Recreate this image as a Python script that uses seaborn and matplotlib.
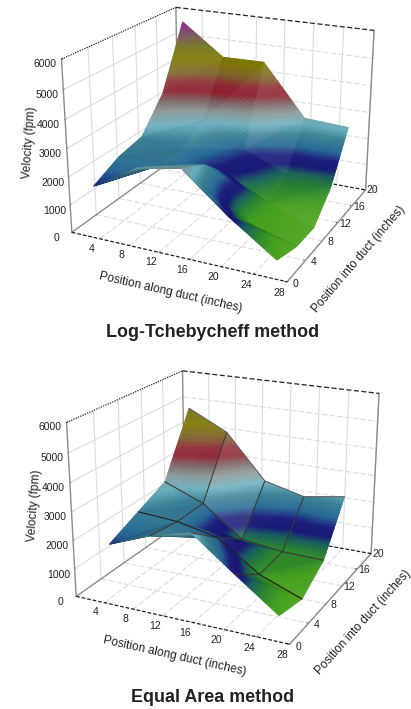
import numpy as np, matplotlib
matplotlib.use('Agg')
import matplotlib.pyplot as plt
from matplotlib.colors import LinearSegmentedColormap, Normalize
from matplotlib.transforms import Affine2D
import seaborn as sns

sns.set_theme(style='white')
FONT = ['Liberation Sans', 'DejaVu Sans']
plt.rcParams['font.family'] = FONT

# ---- data (fpm); rows run from back to front ----
lt_x = [2.1, 8.1, 14, 19.9, 25.9]
lt_y = [18.5, 14.2, 10, 5.8, 1.5]
lt_v1 = [5640, 4490, 4510, 2620, 2530]
lt_v2 = [3340, 2570, 1690, 1020, 890]
lt_v3 = [2200, 2040, 1400, 590, 20]
lt_v4 = [2010, 2010, 2300, 530, 40]
lt_v5 = [1560, 2500, 2790, 1470, 330]

ea_x = [2.8, 8.4, 14, 19.6, 25.2]
ea_y = [17.5, 12.5, 7.5, 2.5]
ea_v1 = [4880, 4160, 2520, 2160, 2400]
ea_v2 = [2630, 2050, 950, 760, 730]
ea_v3 = [2140, 2040, 1720, 680, 100]
ea_v4 = [1650, 2220, 2610, 1470, 360]

x_ticks = [4, 8, 12, 16, 20, 24, 28]
y_ticks = [0, 4, 8, 12, 16, 20]
z_ticks = [0, 1000, 2000, 3000, 4000, 5000, 6000]

band_levels = [0, 500, 850, 1100, 1300, 1550, 1800, 2150, 2450, 2800, 3100, 3400, 3650, 4000, 4400, 4800, 5200, 5640, 6000]
band_colors = ['#55aa28', '#46a01e', '#288232', '#195f5f', '#191978', '#1e1e7d', '#286996', '#3c8296',
               '#69afbe', '#879696', '#786464', '#8c1e2d', '#8c2832', '#7d6428', '#7d7800', '#6e6e14',
               '#6e465a', '#87147d', '#87147d']
cmap = LinearSegmentedColormap.from_list('bands', [(l / 6000, c) for l, c in zip(band_levels, band_colors)], N=512)
norm = Normalize(0, 6000)
W, H = 411, 709


def refine(xs, ys, Z, n=24):
    """Split each grid cell into two flat triangles and sample them finely for the colour gradient."""
    Z = np.array(Z, float)
    ny, nx = Z.shape
    u = np.linspace(0, nx - 1, (nx - 1) * n + 1)
    v = np.linspace(0, ny - 1, (ny - 1) * n + 1)
    X = np.interp(u, np.arange(nx), xs)
    Y = np.interp(v, np.arange(ny), ys)
    out = np.zeros((len(v), len(u)))
    for a, vv in enumerate(v):
        for b, uu in enumerate(u):
            i, j = min(int(vv), ny - 2), min(int(uu), nx - 2)
            f, g = vv - i, uu - j
            if f + g <= 1:
                out[a, b] = Z[i, j] + f * (Z[i + 1, j] - Z[i, j]) + g * (Z[i, j + 1] - Z[i, j])
            else:
                out[a, b] = Z[i + 1, j + 1] + (1 - f) * (Z[i, j + 1] - Z[i + 1, j + 1]) + (1 - g) * (Z[i + 1, j] - Z[i + 1, j + 1])
    XX, YY = np.meshgrid(X, Y)
    return XX, YY, out


def shift(artist, dx, dy):
    """Nudge a text the 3D axis re-places at every draw, by some pixels."""
    orig = artist.draw
    def draw(renderer):
        tr = artist.get_transform()
        artist.set_transform(tr + Affine2D().translate(dx, dy))
        orig(renderer)
        artist.set_transform(tr)
    artist.draw = draw


def panel(cam, xs, ys, Z, title, title_y, wire):
    elev, azim, fl, ax_, ay_, cx, cy, s = cam
    ax = fig.add_axes([(cx - s / 2) / W, 1 - (cy + s / 2) / H, s / W, s / H], projection='3d', computed_zorder=False)
    ax.view_init(elev=elev, azim=azim)
    ax.set_proj_type('persp', focal_length=fl)
    ax.set_box_aspect((ax_, ay_, 1))
    ax.set_xlim(0, 28); ax.set_ylim(0, 20); ax.set_zlim(0, 6000)
    ax.patch.set_alpha(0)
    for a in (ax.xaxis, ax.yaxis, ax.zaxis):
        a.pane.set_visible(False)
        a.line.set_color((0, 0, 0, 0))
        a._axinfo['grid']['linewidth'] = 0
        a._axinfo['tick']['inward_factor'] = 0
        a._axinfo['tick']['outward_factor'] = 0.12
        a._axinfo['tick']['linewidth'] = {True: .7, False: .7}
        a._axinfo['tick']['color'] = '#555555'
    ax.grid(False)
    ax.set_xticks(x_ticks); ax.set_yticks(y_ticks); ax.set_zticks(z_ticks)
    ax.tick_params(labelsize=7.5, labelcolor='#222222', pad=-2)
    ax.tick_params(axis='z', pad=0)
    ax.zaxis.set_ticks_position('lower')
    ax.zaxis.set_label_position('lower')
    ax.set_xlabel('Position along duct (inches)', fontsize=8.6, color='#222222', labelpad=-3)
    ax.set_ylabel('Position into duct (inches)', fontsize=8.6, color='#222222', labelpad=-3)
    ax.zaxis.set_rotate_label(False)
    ax.set_zlabel('Velocity (fpm)', fontsize=8.6, color='#222222', labelpad=-2, rotation=86)
    for t in ax.xaxis.get_major_ticks():
        shift(t.label1, -3, 7)
    for t in ax.yaxis.get_major_ticks():
        shift(t.label1, -2, 13)
    for t in ax.zaxis.get_major_ticks():
        shift(t.label1, 4, 2)
    shift(ax.xaxis.label, 12, 0)
    shift(ax.zaxis.label, 11, 12)

    # walls and floor
    gc = '#dcdcdc'
    for t in x_ticks:
        ax.plot([t, t], [0, 20], [0, 0], color=gc, lw=.8, ls=(0, (5, 2)), zorder=1)
        ax.plot([t, t], [20, 20], [0, 6000], color=gc, lw=.8, zorder=1)
    for t in y_ticks[1:-1]:
        ax.plot([0, 28], [t, t], [0, 0], color=gc, lw=.8, ls=(0, (5, 2)), zorder=1)
        ax.plot([0, 0], [t, t], [0, 6000], color=gc, lw=.8, zorder=1)
    for t in z_ticks[1:-1]:
        ax.plot([0, 0], [0, 20], [t, t], color=gc, lw=.8, zorder=1)
        ax.plot([0, 28], [20, 20], [t, t], color=gc, lw=.8, ls=(0, (5, 2)), zorder=1)
    edge = '#8f8a84'
    for a, b in [((0, 0, 0), (0, 0, 6000)), ((0, 0, 0), (0, 20, 0)), ((28, 0, 0), (28, 20, 0)),
                 ((28, 20, 0), (28, 20, 6000)), ((0, 20, 0), (0, 20, 6000))]:
        ax.plot(*zip(a, b), color=edge, lw=1, zorder=2)
    ax.plot([0, 28], [0, 0], [0, 0], color='#222222', lw=.9, ls=(0, (3, 1.5)), zorder=2)
    ax.plot([0, 28], [20, 20], [0, 0], color='#222222', lw=.9, ls=(0, (3, 1.5)), zorder=2)
    ax.plot([0, 28], [20, 20], [6000, 6000], color='#222222', lw=.9, ls=(0, (4, 2)), zorder=2)
    ax.plot([0, 0], [0, 20], [6000, 6000], color='#222222', lw=.9, ls=(0, (1, 1)), zorder=2)

    X, Y, F = refine(xs, ys, Z)
    mid = (F[:-1, :-1] + F[1:, :-1] + F[:-1, 1:] + F[1:, 1:]) / 4
    rgba = cmap(norm(mid))
    # light the flat facets: steep faces turning to the viewer look paler
    dzdx = (F[:-1, 1:] - F[:-1, :-1]) / (X[:-1, 1:] - X[:-1, :-1]) * 28 / 6000 / ax_
    dzdy = (F[1:, :-1] - F[:-1, :-1]) / (Y[1:, :-1] - Y[:-1, :-1]) * 20 / 6000 / ay_
    nrm = np.sqrt(dzdx ** 2 + dzdy ** 2 + 1)
    light = np.array([.65, -.55, .5])
    lam = (-dzdx * light[0] - dzdy * light[1] + light[2]) / nrm
    pale = np.clip(lam - .82, 0, 1)[..., None] * .9
    dark = np.clip(.7 - lam, 0, 1)[..., None] * .3
    rgb = rgba[..., :3] * (1 - pale) + pale
    rgb = rgb * (1 - dark)
    rgba = np.dstack([rgb, np.ones(mid.shape)])
    ax.plot_surface(X, Y, F, facecolors=rgba, rstride=1, cstride=1, shade=False,
                    linewidth=.6, antialiased=True, zorder=3)
    if wire:
        Zg = np.array(Z, float)
        for j in (1, 2, 3):
            ax.plot([xs[j]] * len(ys), ys, Zg[:, j], color='#3a3a3a', lw=.8, zorder=4)
        for i, c in ((0, '#666666'), (1, '#3a3a3a'), (2, '#222222')):
            ax.plot(xs, [ys[i]] * len(xs), Zg[i], color=c, lw=.8, zorder=4)
    fig.text(.517, 1 - title_y / H, title, ha='center', va='center', fontsize=12.9, fontweight='bold', color='#222222')
    return ax


fig = plt.figure(figsize=(W / 100, H / 100), dpi=100, facecolor='white')
panel((20.576, -64.423, 0.524, 1.289, 1.256, 220.686, 134.478, 354.281), lt_x, lt_y,
      [lt_v1, lt_v2, lt_v3, lt_v4, lt_v5], 'Log-Tchebycheff method', 333, False)
panel((20.024, -64.282, 0.548, 1.279, 1.279, 225.586, 497.841, 355.817), ea_x, ea_y,
      [ea_v1, ea_v2, ea_v3, ea_v4], 'Equal Area method', 697, True)
fig.savefig('out.png', dpi=100, facecolor='white')
